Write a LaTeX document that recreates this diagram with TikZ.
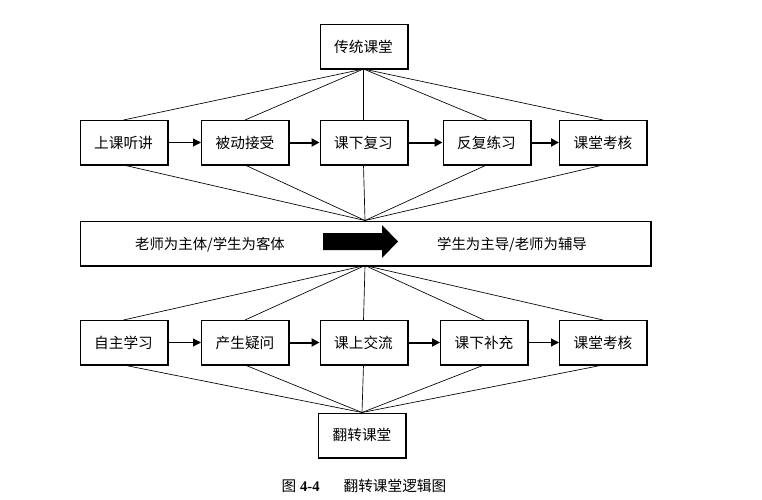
\documentclass[tikz,border=0pt]{standalone}
\usepackage{fontspec}
\setmainfont{Liberation Serif}
\newfontfamily\cjk{Noto Sans CJK SC}
\usetikzlibrary{arrows.meta}
\begin{document}
\begin{tikzpicture}[x=0.75pt,y=-0.75pt,
  box/.style={draw, line width=0.75pt, minimum width=65.25pt, minimum height=33pt, inner sep=0pt,
    font=\cjk\fontsize{11}{13}\selectfont},
  widebox/.style={draw, line width=0.75pt, minimum width=427.5pt, minimum height=33pt, inner sep=0pt},
  lbl/.style={font=\cjk\fontsize{10.8}{13}\selectfont, inner sep=0pt},
  link/.style={line width=0.5pt},
  flow/.style={line width=0.8pt, -{Triangle[length=6pt,width=6pt]}},
  flowthick/.style={line width=1.5pt, -{Triangle[length=6pt,width=6pt]}},
  edge/.style={line width=1.5pt}
]
\useasboundingbox (0,0) rectangle (762,499);
% nodes
\node[box] (top) at (363.5,46.5) {传统课堂};
\node[box] (a1) at (123.5,142.5) {上课听讲};
\node[box] (a2) at (245,142.5) {被动接受};
\node[box] (a3) at (363.5,142.5) {课下复习};
\node[box] (a4) at (486.5,142.5) {反复练习};
\node[box] (a5) at (603,142.5) {课堂考核};
\node[widebox] (mid) at (365,243) {};
\node[lbl] (t1) at (210,245) {老师为主体/学生为客体};
\node[lbl] (t2) at (512,245) {学生为主导/老师为辅导};
\node[box] (b1) at (123.5,342.5) {自主学习};
\node[box] (b2) at (245,342.5) {产生疑问};
\node[box] (b3) at (363.5,342.5) {课上交流};
\node[box] (b4) at (484,342.5) {课下补充};
\node[box] (b5) at (603,342.5) {课堂考核};
\node[box] (bot) at (362,435) {翻转课堂};
\node[inner sep=0pt, font=\fontsize{11}{13}\selectfont] (cap) at (364,486)
  {{\cjk 图} \textbf{4-4}\hspace{18pt}{\cjk 翻转课堂逻辑图}};
% shadow edges
\foreach \n in {top,a1,a2,a3,a4,a5,mid,b1,b2,b3,b4,b5,bot}{
  \draw[edge] (\n.north east) -- (\n.south east) -- (\n.south west);
}
% fat arrow
\fill (323,233) -- (382,233) -- (382,225) -- (398,241.5) -- (382,258) -- (382,250) -- (323,250) -- cycle;
% links
\foreach \n in {a1,a2,a3,a4,a5}{
  \draw[link] (top.south) -- (\n.north);
  \draw[link] (\n.south) -- (mid.north);
}
\foreach \n in {b1,b2,b3,b4,b5}{
  \draw[link] (mid.south) -- (\n.north);
  \draw[link] (\n.south) -- (bot.north);
}
% flow arrows
\draw[flow] (a1) -- (a2);
\draw[flowthick] (a2) -- (a3);
\draw[flowthick] (a3) -- (a4);
\draw[flowthick] (a4) -- (a5);
\draw[flow] (b1) -- (b2);
\draw[flowthick] (b2) -- (b3);
\draw[flowthick] (b3) -- (b4);
\draw[flow] (b4) -- (b5);
\end{tikzpicture}
\end{document}
